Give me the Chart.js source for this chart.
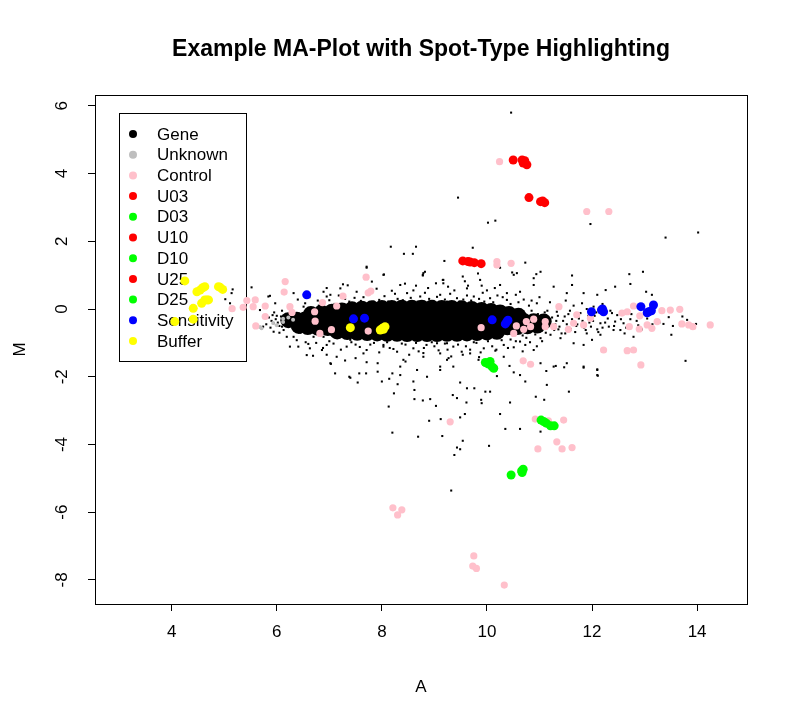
<!DOCTYPE html>
<html>
<head>
<meta charset="utf-8">
<script src="https://cdn.jsdelivr.net/npm/chart.js@4.4.1/dist/chart.umd.min.js"></script>
<style>
  html, body { margin: 0; padding: 0; background: #fff; }
  #wrap { width: 796px; height: 722px; }
</style>
</head>
<body>
<div id="wrap"><canvas id="ma" width="796" height="722"></canvas></div>
<script>
const chartTitle = 'Example MA-Plot with Spot-Type Highlighting';
const xTicks = [4, 6, 8, 10, 12, 14];
const yTicks = [-8, -6, -4, -2, 0, 2, 4, 6];
const legendLabels = ['Gene', 'Unknown', 'Control', 'U03', 'D03', 'U10', 'D10', 'U25', 'D25', 'Sensitivity', 'Buffer'];

// dense centre of the gene cloud, read as overlapping blobs
const geneCore = [
  [6.65,-0.15],[6.85,-0.11],[7.05,-0.08],[7.24,-0.04],[7.43,-0.01],[7.62,0.01],[7.81,0.02],[8.00,0.03],[8.19,0.03],
  [8.38,0.04],[8.57,0.04],[8.76,0.04],[8.95,0.04],[9.14,0.03],[9.33,0.03],[9.52,0.02],[9.71,0.00],[9.90,-0.03],
  [10.08,-0.06],[10.25,-0.10],[10.42,-0.15],[10.60,-0.20],
  [6.22,-0.33],[6.38,-0.32],[6.54,-0.31],[6.71,-0.30],[6.90,-0.30],[7.09,-0.29],[7.28,-0.29],[7.47,-0.30],[7.66,-0.30],
  [7.85,-0.30],[8.04,-0.31],[8.23,-0.30],[8.42,-0.30],[8.61,-0.31],[8.80,-0.30],[8.99,-0.30],[9.18,-0.31],[9.37,-0.30],
  [9.56,-0.31],[9.75,-0.31],[9.94,-0.32],[10.13,-0.32],[10.32,-0.33],[10.51,-0.34],[10.70,-0.35],[10.89,-0.36],
  [11.08,-0.37],
  [6.42,-0.50],[6.59,-0.53],[6.78,-0.55],[6.97,-0.56],[7.16,-0.57],[7.35,-0.58],[7.54,-0.58],[7.73,-0.59],[7.92,-0.58],
  [8.11,-0.59],[8.30,-0.59],[8.49,-0.60],[8.68,-0.59],[8.87,-0.60],[9.06,-0.60],[9.25,-0.59],[9.44,-0.59],[9.63,-0.58],
  [9.82,-0.58],[10.01,-0.57],[10.20,-0.56],[10.39,-0.54],[10.58,-0.53],[10.77,-0.51],[10.96,-0.49],
  [7.15,-0.66],[7.34,-0.68],[7.53,-0.70],[7.72,-0.71],[7.91,-0.72],[8.10,-0.73],[8.29,-0.73],[8.48,-0.74],[8.67,-0.74],
  [8.86,-0.74],[9.05,-0.74],[9.24,-0.73],[9.43,-0.73],[9.62,-0.72],[9.81,-0.71],[10.00,-0.69],[10.19,-0.67]
];

const geneSpots = [
  [10.46,5.80],[9.45,3.29],[10.02,2.55],[10.16,2.61],[11.97,2.51],[13.40,2.11],[14.02,2.26],
  [9.73,1.81],[8.17,1.84],[8.65,1.84],[8.42,1.63],[8.59,1.63],[9.19,1.42],[10.25,1.22],[10.73,1.37],[11.02,1.10],
  [10.94,1.03],[11.62,0.99],[12.71,1.03],[10.48,1.08],[10.57,1.06],[9.54,0.96],[9.83,1.05],[7.71,1.22],[8.04,1.02],
  [8.82,1.10],[8.78,0.99],[7.26,0.73],[7.81,0.81],[8.44,0.75],[8.65,0.69],[9.03,0.76],[9.16,0.86],[9.26,0.66],
  [9.64,0.69],[9.90,0.69],
  [12.97,1.10],[12.44,0.66],[12.73,0.74],[13.03,0.51],[13.14,0.42],[13.51,-0.76],[13.78,-1.53],[13.98,-0.44],
  [13.81,-0.32],[13.72,-0.22],[13.46,-0.24],[13.54,-0.50],[13.36,-0.44],[13.28,-0.40],
  [11.27,0.66],[11.62,0.71],[11.84,0.47],[12.10,0.42],[12.26,0.56],[10.89,0.71],[10.63,0.51],[10.38,0.47],[10.95,0.17],
  [11.52,0.47],[11.81,0.17],[12.03,0.07],[12.38,-0.12],[12.44,-0.37],[12.60,-0.42],[12.73,-0.30],[12.16,-0.42],
  [12.32,-0.52],[12.54,-0.62],[12.10,-0.60],[11.90,-0.72],[11.49,-0.72],[11.40,-0.86],[11.21,-0.76],[11.02,-0.86],
  [11.70,-0.50],[12.79,-0.82],[12.41,-0.62],[12.16,-0.76],[12.00,-0.91],[11.84,-1.06],[11.65,-1.01],[12.10,-1.80],
  [12.10,-1.95],[11.84,-1.70],[11.52,-1.60],[11.27,-1.70],[11.02,-1.60],[10.73,-1.06],[10.51,-1.13],[10.32,-1.41],
  [10.16,-1.23],[10.00,-1.65],[9.84,-1.50],[9.68,-1.31],[9.52,-1.26],[9.36,-1.70],[9.24,-1.50],[9.24,-1.01],[9.49,-0.91],
  [11.35,-0.20],[11.45,-0.35],[11.55,-0.15],[11.60,-0.60],[11.75,-0.28],[11.85,-0.55],[11.95,-0.40],[12.05,-0.20],
  [12.20,-0.55],[12.30,-0.28],[12.48,-0.18],[12.65,-0.55],[12.85,-0.35],[12.95,-0.60],[13.05,-0.28],[13.15,-0.45],
  [11.30,-0.45],[11.40,0.05],[11.65,0.10],[11.20,0.20],[11.10,-0.10],[11.50,0.25],[11.90,0.00],[12.20,0.15],
  [6.69,-1.38],[7.03,-1.62],[7.40,-2.03],[7.54,-2.17],[7.70,-1.90],[7.92,-1.85],[8.00,-2.14],[8.14,-2.06],[8.23,-2.49],
  [8.13,-2.88],[8.30,-2.22],[8.35,-1.95],[8.62,-2.39],[8.62,-2.66],[8.78,-2.70],[8.90,-3.30],[8.92,-2.66],[9.03,-2.86],
  [8.20,-3.65],[8.69,-3.77],[9.12,-3.25],[9.15,-3.75],[9.38,-4.31],[9.43,-4.09],[9.49,-4.14],[9.54,-3.89],[9.32,-5.36],
  [9.35,-2.54],[9.43,-2.63],[9.49,-3.20],[9.58,-3.10],[9.62,-2.34],[9.61,-2.76],[9.76,-2.34],[9.89,-2.68],[9.90,-2.78],
  [9.97,-2.44],[10.04,-4.04],[10.25,-3.10],[10.35,-3.54],[10.44,-2.76],[10.63,-3.54],[10.93,-2.59],[11.02,-3.62],
  [11.09,-2.68],[11.14,-2.24],[11.56,-2.44],[12.11,-1.97],[12.10,-1.78],[11.84,-1.73],[11.47,-1.72],[11.31,-1.68],
  [11.13,-1.83],[10.73,-2.14],[10.63,-1.95],[10.51,-1.87],[10.43,-1.68],[10.19,-1.98],[10.06,-2.44],[9.49,-2.17],
  [9.27,-1.45],[9.11,-1.70],[8.86,-2.00],[8.60,-2.14],[8.67,-1.80],[8.35,-1.70],[8.20,-1.90],[7.92,-1.60],[7.71,-1.57],
  [7.57,-1.90],[7.38,-2.00],[7.30,-1.52],[7.11,-1.90],[6.86,-1.21],[6.60,-1.03],
  [5.16,0.58],[5.14,0.47],[5.52,0.64],[5.87,0.39],[5.02,0.29],[5.97,0.17],[5.68,-0.03],[5.94,-0.42],[6.13,-0.62],
  [6.32,-0.82],[6.41,-1.11],[6.63,-1.16],[7.02,-1.60],[6.89,-0.82],[5.11,0.17],[5.84,0.37],[6.32,0.47],[6.54,0.17],
  [6.89,0.51],[7.02,0.42],[7.71,1.25],[8.03,1.01],[8.35,0.71],[8.79,1.06],[9.17,0.86],[5.94,-0.67],[5.74,-0.52],
  [6.19,-0.82],[6.25,-1.11],[7.40,-0.91],[7.65,-1.31],[8.03,-1.11],[8.41,-1.50],[8.79,-1.41],[9.05,-1.01],[9.11,-1.80],
  [8.78,1.01],[9.17,0.76],[9.62,0.61],[9.87,0.86],[10.25,0.71],[10.51,1.01],[10.89,0.91],[7.21,0.61],[7.52,0.51],
  [8.19,0.54],[8.48,0.47],[8.73,0.37],[9.11,0.42],[9.43,0.32],[9.75,0.37],[10.06,0.32],[10.38,0.27],[6.95,0.37],
  [6.51,0.07],[7.84,0.22],[9.24,0.22],[7.30,0.30],[7.65,0.35],[8.05,0.38],[8.30,0.30],[8.90,0.30],[9.30,0.45],
  [9.55,0.28],[9.95,0.22],[10.20,0.40],[10.60,0.20],[10.80,0.10],[7.10,0.15],[6.80,0.10],[8.60,0.55],[10.00,0.55],
  [6.70,-0.82],[6.95,-1.06],[7.33,-1.11],[7.71,-1.21],[8.03,-1.06],[8.29,-1.26],[8.60,-1.16],[8.85,-1.06],[9.11,-1.31],
  [9.36,-1.11],[9.68,-1.20],[9.94,-1.16],[10.32,-1.06],[10.63,-0.96],[10.89,-1.21],[6.57,-1.36],[7.14,-1.41],
  [8.79,-1.30],[9.54,-1.35],[7.00,-0.95],[7.50,-1.05],[7.85,-1.00],[8.15,-1.15],[8.45,-1.05],[8.70,-1.25],[9.00,-1.10],
  [9.25,-1.20],[9.80,-1.00],[10.10,-1.10],[10.45,-0.90],[10.75,-0.85],[11.05,-0.95],[6.45,-0.70],[6.30,-0.55],
  [6.00,-0.20],[6.05,-0.50],
  [6.40,0.28],[6.62,0.35],[6.78,0.25],[7.00,0.26],[7.18,0.40],[7.38,0.22],[7.48,0.33],[7.60,0.24],[7.75,0.42],
  [7.95,0.27],[8.12,0.22],[8.25,0.45],[8.40,0.26],[8.55,0.33],[8.68,0.22],[8.82,0.48],[8.98,0.24],[9.05,0.36],
  [9.20,0.28],[9.38,0.55],[9.48,0.22],[9.62,0.40],[9.70,0.25],[9.85,0.30],[9.92,0.48],[10.12,0.20],[10.30,0.35],
  [10.45,0.15],[10.55,0.42],[10.70,0.28],[10.85,0.25],[11.00,0.35],[7.90,0.60],[8.88,0.62],[9.58,0.82],[10.15,0.62],
  [6.95,0.62],[7.35,0.70],
  [6.38,-0.92],[6.55,-0.98],[6.75,-1.00],[6.88,-1.15],[7.08,-1.02],[7.22,-1.20],[7.42,-0.98],[7.58,-1.12],[7.78,-1.05],
  [7.95,-1.28],[8.10,-0.98],[8.22,-1.18],[8.38,-1.02],[8.52,-1.35],[8.65,-1.00],[8.80,-1.15],[8.95,-0.98],[9.08,-1.22],
  [9.20,-1.02],[9.32,-1.40],[9.45,-1.05],[9.60,-1.10],[9.75,-0.98],[9.88,-1.28],[10.02,-0.95],[10.18,-1.20],[10.28,-0.92],
  [10.40,-1.15],[10.55,-0.95],[10.68,-1.25],[10.82,-0.98],[7.50,-1.45],[8.45,-1.55],[9.85,-1.42],[6.95,-1.35],[10.95,-1.10],
  [10.62,-0.10],[10.68,-0.78],[10.74,-0.20],[10.78,-0.68],[10.85,-0.05],[10.88,-0.45],[10.92,-0.75],[10.97,-0.15],
  [11.00,-0.58],[11.05,-0.28],[11.12,-0.70],[11.15,-0.05],[11.18,-0.45],[11.24,-0.25],[11.28,-0.62],[11.33,-0.08],
  [11.38,-0.52],[11.42,-0.72],[11.48,-0.22],[11.52,-0.45],[11.58,-0.05],[11.62,-0.30],[11.68,-0.68],[11.72,-0.45],
  [11.78,-0.12],[11.82,-0.35],[11.88,-0.62],[11.93,-0.20],[11.98,-0.52],[12.02,-0.35],[12.08,-0.10],[12.12,-0.68],
  [12.25,-0.40],[12.35,-0.05],[12.42,-0.50],[12.55,-0.30],[12.62,-0.72],[12.75,-0.15],[12.88,-0.48],[13.00,-0.05],
  [5.85,-0.25],[5.90,-0.35],[5.95,-0.10],[5.80,-0.45],[6.05,-0.70],[6.10,-0.05],
  [11.20,-0.30],[11.25,-0.48],[11.32,-0.35],[11.36,-0.60],
  [5.98,-0.30],[6.02,-0.40],[6.08,-0.22],[6.10,-0.52],[5.88,-0.55],[5.92,-0.18]
];

const unknown = [[6.12,-0.29],[5.93,-0.41],[6.31,-0.32],[5.68,-0.53],[6.12,-0.38],[5.71,-0.57],[6.22,-0.25],[6.00,-0.48]];

const control = [
  [6.16,0.81],[6.14,0.50],[5.43,0.25],[5.59,0.27],[5.36,0.05],[5.55,0.07],[5.78,0.09],[5.15,0.01],[5.78,-0.22],
  [5.60,-0.50],[6.25,0.07],[6.29,-0.10],[6.72,-0.08],[6.73,-0.36],[6.82,-0.72],[7.04,-0.61],[6.87,0.19],[7.14,0.09],
  [7.26,0.38],[7.70,0.94],[7.74,0.48],[7.79,0.53],[7.74,-0.65],[9.89,-0.55],[10.56,-0.50],[10.70,-0.60],[10.51,-0.72],
  [10.75,-0.37],[10.89,-0.30],[10.83,-0.52],[11.11,-0.37],[11.11,-0.52],[11.27,-0.52],[11.37,0.07],[11.55,-0.60],
  [11.71,-0.17],[11.65,-0.42],[11.84,-0.47],[11.97,-0.27],[12.57,-0.12],[12.67,-0.08],[12.79,0.09],[12.91,-0.20],
  [12.71,-0.52],[12.90,-0.59],[13.05,-0.47],[13.14,-0.57],[13.24,-0.37],[13.33,-0.05],[13.49,-0.03],[13.67,-0.01],
  [13.71,-0.44],[13.84,-0.47],[13.92,-0.52],[14.25,-0.47],[12.22,-1.21],[12.67,-1.23],[12.79,-1.21],[12.93,-1.65],
  [10.69,-1.53],[10.83,-1.63],[12.32,2.88],[11.90,2.88],[10.24,4.35],[10.19,1.40],[10.19,1.30],[10.46,1.35],
  [9.30,-3.33],[10.92,-3.25],[11.17,-3.30],[11.46,-3.28],[11.33,-3.92],[10.97,-4.13],[11.43,-4.13],[11.62,-4.09],
  [8.21,-5.87],[8.38,-5.93],[8.30,-6.08],[9.75,-7.29],[9.73,-7.59],[9.80,-7.66],[10.33,-8.15]
];

const u03 = [[9.54,1.42],[9.64,1.40],[9.68,1.39],[9.76,1.37],[9.89,1.34]];
const d03 = [[9.97,-1.58],[10.02,-1.62],[10.06,-1.55],[10.10,-1.71],[10.13,-1.75]];
const u10 = [[10.80,3.29],[11.02,3.17],[11.06,3.19],[11.10,3.14]];
const d10 = [[11.03,-3.28],[11.08,-3.32],[11.13,-3.37],[11.21,-3.45],[11.28,-3.45]];
const u25 = [[10.50,4.40],[10.67,4.40],[10.69,4.31],[10.72,4.38],[10.76,4.26]];
const d25 = [[10.46,-4.90],[10.66,-4.78],[10.67,-4.83],[10.69,-4.73]];
const sensitivity = [
  [6.57,0.42],[7.46,-0.29],[7.67,-0.27],[10.10,-0.32],[10.38,-0.37],[10.35,-0.44],[10.40,-0.33],[11.99,-0.08],
  [12.18,-0.03],[12.22,-0.08],[12.20,0.00],[12.93,0.07],[13.05,-0.11],[13.17,0.12],[13.13,-0.05],[13.08,-0.08]
];
const buffer = [
  [4.25,0.83],[4.48,0.51],[4.59,0.63],[4.54,0.56],[4.63,0.66],[4.89,0.66],[4.97,0.58],[4.92,0.64],[4.57,0.17],
  [4.63,0.27],[4.70,0.27],[4.67,0.27],[4.41,0.02],[4.06,-0.37],[4.41,-0.30],[7.40,-0.55],[8.01,-0.57],[8.06,-0.52],
  [7.97,-0.62],[8.03,-0.60]
];

const colors = {
  Gene: '#000000', Unknown: '#BEBEBE', Control: '#FFC0CB',
  U03: '#FF0000', D03: '#00FF00', U10: '#FF0000', D10: '#00FF00', U25: '#FF0000', D25: '#00FF00',
  Sensitivity: '#0000FF', Buffer: '#FFFF00'
};

const fontFamily = '"Liberation Sans", Arial, Helvetica, sans-serif';
Chart.defaults.font.family = fontFamily;
Chart.defaults.color = '#000';

function series(label, pts, radius, order, style) {
  return {
    label,
    data: pts.map(([x, y]) => ({ x, y })),
    backgroundColor: colors[label],
    pointBackgroundColor: colors[label],
    pointBorderWidth: 0,
    borderWidth: 0,
    pointRadius: radius,
    pointHoverRadius: radius,
    pointStyle: style || 'circle',
    order
  };
}

// R-style box round the plot region
const boxPlugin = {
  id: 'box',
  afterDatasetsDraw(chart) {
    const { ctx, chartArea: a } = chart;
    ctx.save();
    ctx.strokeStyle = '#000';
    ctx.lineWidth = 1;
    ctx.strokeRect(Math.round(a.left) + 0.5, Math.round(a.top) + 0.5,
      Math.round(a.right - a.left), Math.round(a.bottom - a.top));
    ctx.restore();
  }
};

// legend box in the top-left corner; points are drawn over it
const legendPlugin = {
  id: 'rLegend',
  beforeDatasetsDraw(chart) {
    const { ctx, chartArea: a } = chart;
    const x0 = Math.round(a.left + 24), y0 = Math.round(a.top + 18);
    ctx.save();
    ctx.strokeStyle = '#000';
    ctx.lineWidth = 1;
    ctx.strokeRect(x0 + 0.5, y0 + 0.5, 127, 248);
    ctx.font = '17px ' + fontFamily;
    ctx.textBaseline = 'middle';
    ctx.textAlign = 'left';
    legendLabels.forEach((lab, i) => {
      const y = y0 + 21 + i * 20.7;
      ctx.fillStyle = colors[lab];
      ctx.beginPath();
      ctx.arc(x0 + 14, y, 4, 0, Math.PI * 2);
      ctx.fill();
      ctx.fillStyle = '#000';
      ctx.fillText(lab, x0 + 38, y + 1);
    });
    ctx.restore();
  }
};

new Chart(document.getElementById('ma'), {
  type: 'scatter',
  data: {
    datasets: [
      series('Gene', geneCore, 8, 30),
      series('Gene', geneSpots, 1.45, 29, 'rect'),
      series('Unknown', unknown, 2, 20),
      series('Control', control, 3.6, 10),
      series('U03', u03, 4.5, 5),
      series('D03', d03, 4.5, 5),
      series('U10', u10, 4.5, 5),
      series('D10', d10, 4.5, 5),
      series('U25', u25, 4.5, 5),
      series('D25', d25, 4.5, 5),
      series('Sensitivity', sensitivity, 4.5, 4),
      series('Buffer', buffer, 4.5, 3)
    ]
  },
  options: {
    responsive: false,
    animation: false,
    events: [],
    layout: { padding: { left: 0, right: 49, top: 0, bottom: 0 } },
    plugins: {
      legend: { display: false },
      tooltip: { enabled: false },
      title: {
        display: true,
        text: chartTitle,
        fullSize: false,
        color: '#000',
        font: { size: 23, weight: 'bold' },
        padding: { top: 35.5, bottom: 31.9 }
      }
    },
    scales: {
      x: {
        type: 'linear',
        min: 2.54,
        max: 14.95,
        afterBuildTicks: s => { s.ticks = xTicks.map(v => ({ value: v })); },
        afterFit: s => { s.height = 118; },
        grid: { display: true, drawOnChartArea: false, drawTicks: true, tickLength: 7, color: '#000', lineWidth: 1 },
        border: { display: false },
        ticks: { color: '#000', font: { size: 17 }, padding: 11, maxRotation: 0, autoSkip: false },
        title: { display: true, text: 'A', color: '#000', font: { size: 17 }, padding: { top: 0, bottom: 24 } }
      },
      y: {
        type: 'linear',
        min: -8.71,
        max: 6.32,
        afterBuildTicks: s => { s.ticks = yTicks.map(v => ({ value: v })); },
        afterFit: s => { s.width = 95; },
        grid: { display: true, drawOnChartArea: false, drawTicks: true, tickLength: 7, color: '#000', lineWidth: 1 },
        border: { display: false },
        ticks: { color: '#000', font: { size: 17 }, padding: 18, minRotation: 90, maxRotation: 90, crossAlign: 'center', autoSkip: false },
        title: { display: true, text: 'M', color: '#000', font: { size: 17 }, padding: { top: 10, bottom: 0 } }
      }
    }
  },
  plugins: [legendPlugin, boxPlugin]
});
</script>
</body>
</html>
